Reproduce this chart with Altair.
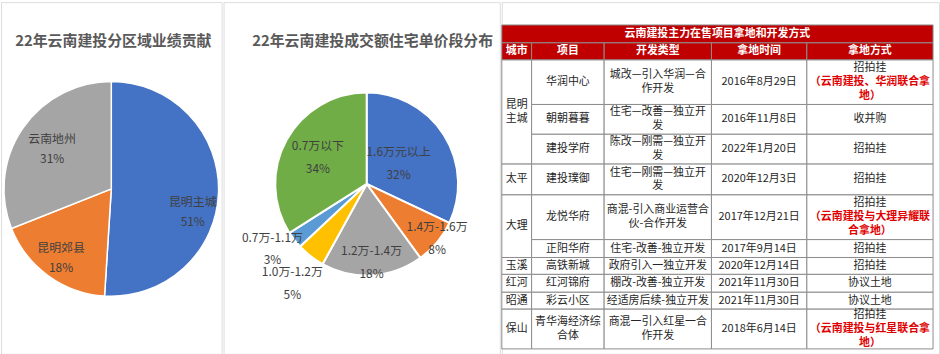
import math
import altair as alt
import pandas as pd

FONT = "Noto Sans CJK SC"

# ---------------- data ----------------
# Pie 1: 22年云南建投分区域业绩贡献
region_names = ["昆明主城", "昆明郊县", "云南地州"]
region_share = [51, 18, 31]
region_colors = ["#4472C4", "#ED7D31", "#A5A5A5"]

# Pie 2: 22年云南建投成交额住宅单价段分布
price_names = ["1.6万元以上", "1.4万-1.6万", "1.2万-1.4万", "1.0万-1.2万", "0.7万-1.1万", "0.7万以下"]
price_share = [32, 8, 18, 5, 3, 34]
price_colors = ["#4472C4", "#ED7D31", "#A5A5A5", "#FFC000", "#5B9BD5", "#70AD47"]

# Table
table_title = "云南建投主力在售项目拿地和开发方式"
headers = ["城市", "项目", "开发类型", "拿地时间", "拿地方式"]
cities = ["昆明\n主城", "太平", "大理", "玉溪", "红河", "昭通", "保山"]
city_spans = [3, 1, 2, 1, 1, 1, 1]
projects = ["华润中心", "朝朝暮暮", "建投学府", "建投璞御", "龙悦华府", "正阳华府",
            "高铁新城", "红河锦府", "彩云小区", "青华海经济综\n合体"]
dev_types = ["城改—引入华润—合\n作开发", "住宅—改善—独立开\n发", "陈改—刚需—独立开\n发",
             "住宅—刚需—独立开\n发", "商混-引入商业运营合\n伙-合作开发", "住宅-改善-独立开发",
             "政府引入一独立开发", "棚改-改善-独立开发", "经适房后续-独立开发",
             "商混一引入红星一合\n作开发"]
land_dates = ["2016年8月29日", "2016年11月8日", "2022年1月20日", "2020年12月3日", "2017年12月21日",
              "2017年9月14日", "2020年12月14日", "2021年11月30日", "2021年11月30日", "2018年6月14日"]
land_methods = ["招拍挂", "收并购", "招拍挂", "招拍挂", "招拍挂", "招拍挂", "招拍挂",
                "协议土地", "协议土地", "招拍挂"]
land_notes = ["（云南建投、华润联合拿\n地）", "", "", "", "（云南建投与大理异耀联\n合拿地）",
              "", "", "", "", "（云南建投与红星联合拿\n地）"]

# ---------------- layout (not data) ----------------
H = 354
P1_W, P2_W, T_W = 222, 278, 440


def pie(names, shares, colors, width, cx, cy, r, stroke_w, label_layout, title, tx, ty, lh):
    df = pd.DataFrame({"name": names, "share": shares, "idx": list(range(len(names)))})
    df["label"] = [f"{n}\n{s}%" for n, s in zip(names, shares)]
    total = float(sum(shares))
    tscale = alt.Scale(domain=[0, total], range=[0, 2 * math.pi])
    base = alt.Chart(df).transform_window(
        cum="sum(share)", sort=[alt.SortField("idx")]
    ).transform_calculate(
        start="datum.cum - datum.share",
        mid="datum.cum - datum.share / 2",
    )
    arcs = base.mark_arc(outerRadius=r, stroke="white", strokeWidth=stroke_w).encode(
        theta=alt.Theta("start:Q", scale=tscale),
        theta2="cum:Q",
        color=alt.Color("name:N", scale=alt.Scale(domain=names, range=colors), legend=None),
        x=alt.value(cx), y=alt.value(cy),
    )
    layers = [arcs]
    for nm, (rad, dy) in label_layout.items():
        layers.append(
            base.transform_filter(alt.datum.name == nm).mark_text(
                radius=rad, dy=dy - lh / 2, font=FONT, fontSize=12, color="#404040",
                lineBreak="\n", lineHeight=lh, align="center", baseline="middle",
            ).encode(
                theta=alt.Theta("mid:Q", scale=tscale),
                text="label:N",
                x=alt.value(cx), y=alt.value(cy),
            )
        )
    ttl = alt.Chart(pd.DataFrame({"t": [title]})).mark_text(
        font=FONT, fontSize=15, fontWeight="bold", color="#595959",
        align="center", baseline="middle",
    ).encode(text="t:N", x=alt.value(tx), y=alt.value(ty))
    layers.append(ttl)
    return alt.layer(*layers).properties(width=width, height=H)


pie1 = pie(region_names, region_share, region_colors, P1_W, 111, 188, 108, 1.5,
           {"昆明主城": (82, 21), "昆明郊县": (86, 0), "云南地州": (72, 0)},
           "22年云南建投分区域业绩贡献", 113, 39, 20)

pie2 = pie(price_names, price_share, price_colors, P2_W, 144, 183, 92, 2,
           {"1.6万元以上": (38, 0), "1.4万-1.6万": (92, -4), "1.2万-1.4万": (79, 0),
            "1.0万-1.2万": (122, 4), "0.7万-1.1万": (120, -8), "0.7万以下": (56, 0)},
           "22年云南建投成交额住宅单价段分布", 150, 39, 23)

# ---------------- table ----------------
col_w = [30, 73, 108, 96, 127]
head_h = [18, 17]
body_h = [45, 30, 30, 31, 45, 18, 17, 18, 17, 40]
TOP = 23
LH = 14
col_x = [0]
for w in col_w:
    col_x.append(col_x[-1] + w)
row_y = [TOP]
for h in head_h + body_h:
    row_y.append(row_y[-1] + h)

cells = []
notes = []


def add(x0, x1, y0, y1, kind, text, target=None):
    if target is None:
        target = cells
    n = text.count("\n") + 1
    target.append({"x0": x0, "x1": x1, "y0": y0, "y1": y1,
                   "xc": (x0 + x1) / 2, "yc": (y0 + y1) / 2 - (n - 1) * LH / 2,
                   "kind": kind, "text": text})


add(col_x[0], col_x[-1], row_y[0], row_y[1], "head", table_title)
for i, hd in enumerate(headers):
    add(col_x[i], col_x[i + 1], row_y[1], row_y[2], "head", hd)

r0 = 0
for c, span in zip(cities, city_spans):
    add(col_x[0], col_x[1], row_y[2 + r0], row_y[2 + r0 + span], "body", c)
    r0 += span

for j in range(len(projects)):
    y0, y1 = row_y[2 + j], row_y[3 + j]
    add(col_x[1], col_x[2], y0, y1, "body", projects[j])
    add(col_x[2], col_x[3], y0, y1, "body", dev_types[j])
    add(col_x[3], col_x[4], y0, y1, "body", land_dates[j])
    note = land_notes[j]
    if note:
        n = note.count("\n") + 1
        add(col_x[4], col_x[5], y0, y1, "body", land_methods[j] + "\n " * n)
        add(col_x[4], col_x[5], y0, y1, "note", " \n" + note, notes)
    else:
        add(col_x[4], col_x[5], y0, y1, "body", land_methods[j])

cells_df = pd.DataFrame(cells)
notes_df = pd.DataFrame(notes)

xs = alt.Scale(domain=[0, T_W], nice=False, zero=False)
ys = alt.Scale(domain=[0, H], nice=False, zero=False, reverse=True)

head_rects = alt.Chart(cells_df).transform_filter(alt.datum.kind == "head").mark_rect(
    fill="#C00000", stroke="#8c8c8c", strokeWidth=1
).encode(
    x=alt.X("x0:Q", scale=xs, axis=None), x2="x1:Q",
    y=alt.Y("y0:Q", scale=ys, axis=None), y2="y1:Q",
)
body_rects = alt.Chart(cells_df).transform_filter(alt.datum.kind == "body").mark_rect(
    fill="#FFFFFF", stroke="#8c8c8c", strokeWidth=1
).encode(
    x=alt.X("x0:Q", scale=xs, axis=None), x2="x1:Q",
    y=alt.Y("y0:Q", scale=ys, axis=None), y2="y1:Q",
)
head_text = alt.Chart(cells_df).transform_filter(alt.datum.kind == "head").mark_text(
    font=FONT, fontSize=11, fontWeight="bold", color="white", align="center", baseline="middle",
).encode(x=alt.X("xc:Q", scale=xs, axis=None), y=alt.Y("yc:Q", scale=ys, axis=None), text="text:N")
body_text = alt.Chart(cells_df).transform_filter(alt.datum.kind == "body").mark_text(
    font=FONT, fontSize=11, color="#262626", align="center", baseline="middle",
    lineBreak="\n", lineHeight=LH,
).encode(x=alt.X("xc:Q", scale=xs, axis=None), y=alt.Y("yc:Q", scale=ys, axis=None), text="text:N")
note_text = alt.Chart(notes_df).mark_text(
    font=FONT, fontSize=11, fontWeight="bold", color="#E00000", align="center", baseline="middle",
    lineBreak="\n", lineHeight=LH,
).encode(x=alt.X("xc:Q", scale=xs, axis=None), y=alt.Y("yc:Q", scale=ys, axis=None), text="text:N")

table = alt.layer(body_rects, head_rects, head_text, body_text, note_text).properties(width=T_W, height=H)

chart = alt.hconcat(pie1, pie2, table, spacing=0).resolve_scale(
    color="independent", theta="independent", x="independent", y="independent"
).properties(
    padding={"left": 0, "top": 0, "right": 0, "bottom": 0}
).configure_view(strokeWidth=0).configure(background="white")

chart.save("out.html", embed_options={"renderer": "svg", "actions": False})
